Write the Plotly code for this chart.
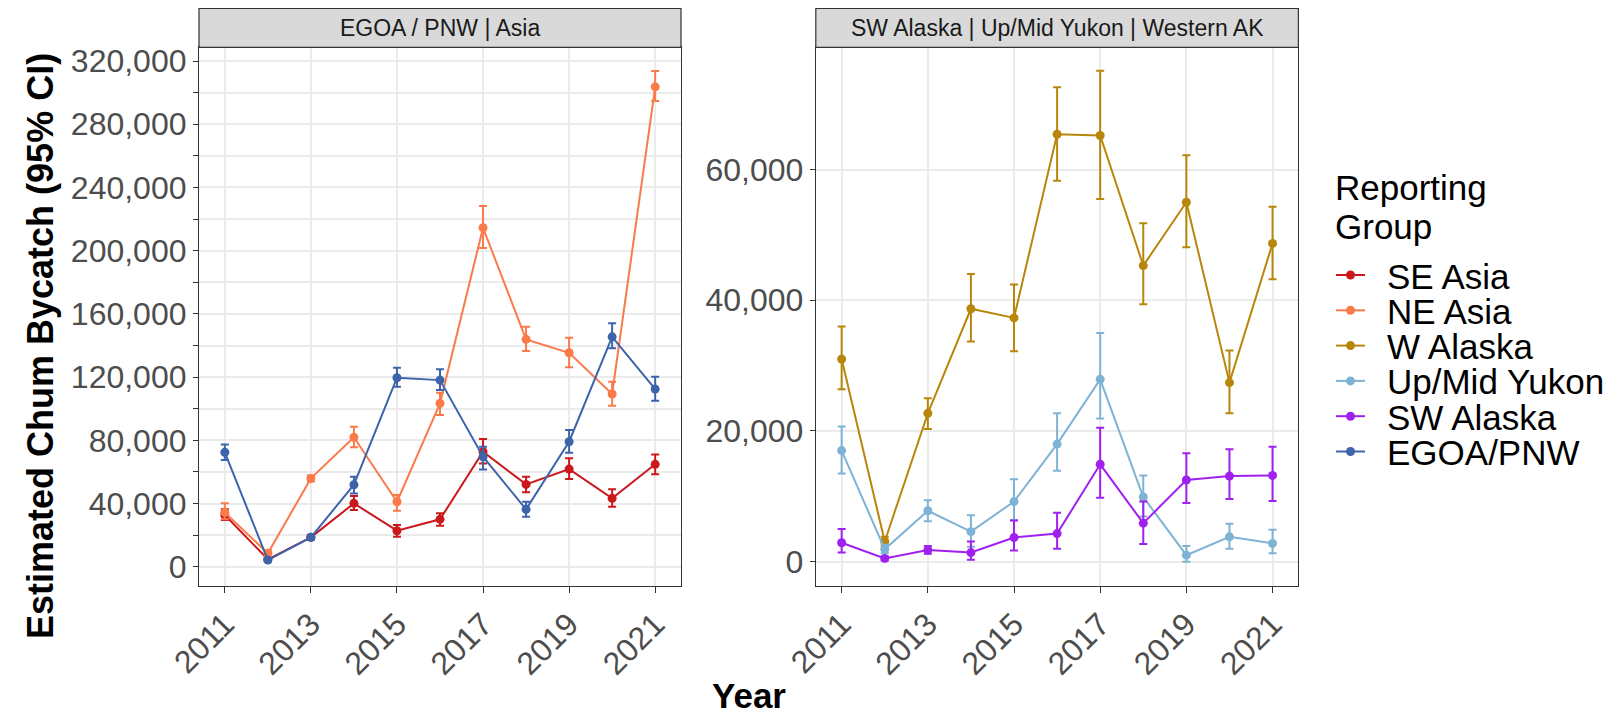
import plotly.graph_objects as go

W, H = 1621, 714
OFF = 8  # default page body margin in the browser
years = list(range(2011, 2022))

# ---- data ----
se_asia = [32700, 4700, 18600, 40100, 22800, 30000, 72800, 52100, 61800, 43300, 64800]
se_asia_lo = [29600, 3500, 17000, 35900, 19000, 26000, 65400, 47100, 55500, 38000, 58500]
se_asia_hi = [36300, 6000, 20300, 44700, 26400, 33800, 80800, 57000, 68600, 49000, 71100]

ne_asia = [34400, 8500, 55900, 81900, 41100, 103400, 214500, 143900, 135400, 109300, 303700]
ne_asia_lo = [30000, 6000, 54000, 75600, 35400, 96000, 201700, 136500, 126200, 101900, 294700]
ne_asia_hi = [40100, 10500, 57800, 88600, 45400, 110100, 228200, 151900, 144900, 117100, 313700]

egoa = [72400, 4200, 18600, 51900, 119600, 118100, 69600, 36300, 79100, 145500, 112400]
egoa_lo = [67500, 3300, 17400, 46400, 113900, 111800, 61600, 31600, 72100, 138200, 105000]
egoa_hi = [77400, 5200, 19800, 57000, 125900, 124900, 75900, 41100, 86500, 154000, 120200]

w_alaska = [31000, 3100, 22700, 38700, 37300, 65400, 65200, 45300, 55000, 27400, 48700]
w_alaska_lo = [26400, 2400, 20300, 33700, 32200, 58300, 55500, 39400, 48100, 22700, 43200]
w_alaska_hi = [36000, 3800, 25000, 44000, 42400, 72600, 75100, 51800, 62200, 32300, 54300]

yukon = [17000, 1900, 7800, 4600, 9200, 18000, 27900, 9900, 1000, 3800, 2800]
yukon_lo = [13500, 1300, 6200, 2300, 6400, 13900, 21900, 6900, 0, 2000, 1300]
yukon_hi = [20700, 2600, 9400, 7100, 12600, 22700, 35000, 13200, 2400, 5800, 4900]

sw_alaska = [2900, 500, 1800, 1400, 3700, 4300, 14900, 5900, 12500, 13100, 13200]
sw_alaska_lo = [1400, 200, 1200, 300, 1700, 2000, 9800, 2700, 9000, 9600, 9300]
sw_alaska_hi = [5000, 800, 2400, 3100, 6300, 7500, 20500, 9200, 16600, 17200, 17600]

group_names = ["SE Asia", "NE Asia", "W Alaska", "Up/Mid Yukon", "SW Alaska", "EGOA/PNW"]
group_colors = ["#CB181D", "#FB7A4A", "#B8860B", "#7FB3D5", "#A020F0", "#3D64AB"]

strip_labels = ["EGOA / PNW | Asia", "SW Alaska | Up/Mid Yukon | Western AK"]
x_ticks = [2011, 2013, 2015, 2017, 2019, 2021]
left_ticks = list(range(0, 320001, 20000))
right_ticks = [0, 20000, 40000, 60000]

series = [
    # name, est, lo, hi, panel
    ("SE Asia", se_asia, se_asia_lo, se_asia_hi, 1),
    ("NE Asia", ne_asia, ne_asia_lo, ne_asia_hi, 1),
    ("W Alaska", w_alaska, w_alaska_lo, w_alaska_hi, 2),
    ("Up/Mid Yukon", yukon, yukon_lo, yukon_hi, 2),
    ("SW Alaska", sw_alaska, sw_alaska_lo, sw_alaska_hi, 2),
    ("EGOA/PNW", egoa, egoa_lo, egoa_hi, 1),
]

FONT = "Liberation Sans, Arial, Helvetica, sans-serif"
TICK_COL = "#4D4D4D"
BORDER = "#333333"
GRID = "#EBEBEB"

fig = go.Figure()
for name, est, lo, hi, panel in series:
    col = group_colors[group_names.index(name)]
    fig.add_trace(go.Scatter(
        x=years, y=est, mode="lines+markers", name=name,
        xaxis="x" if panel == 1 else "x2", yaxis="y" if panel == 1 else "y2",
        line=dict(color=col, width=2),
        marker=dict(color=col, size=9),
        error_y=dict(type="data", symmetric=False,
                     array=[h - e for h, e in zip(hi, est)],
                     arrayminus=[e - l for e, l in zip(est, lo)],
                     color=col, thickness=2, width=4),
        showlegend=False,
    ))

# panel geometry (window pixels)
p1 = (199, 681)
p2 = (815.8, 1298.4)
ptop, pbot = 47.3, 585.7
stop = 8.3

def px(x):
    return (x - OFF) / W

def py(y):
    return 1 - (y - OFF) / H

xaxis_common = dict(
    range=[2010.4, 2021.6], tickvals=x_ticks, ticktext=[str(v) for v in x_ticks],
    tickangle=-45, ticks="outside", ticklen=6, tickwidth=1.2, tickcolor=BORDER,
    showgrid=True, gridcolor=GRID, gridwidth=1.5,
    showline=True, linecolor=BORDER, linewidth=1.2, mirror=True,
    tickfont=dict(family=FONT, size=32, color=TICK_COL),
    zeroline=False, automargin=False,
)
yaxis_common = dict(
    ticks="outside", ticklen=5, tickwidth=1.2, tickcolor=BORDER,
    showgrid=True, gridcolor=GRID, gridwidth=1.5,
    showline=True, linecolor=BORDER, linewidth=1.2, mirror=True,
    tickfont=dict(family=FONT, size=32, color=TICK_COL),
    zeroline=False, automargin=False,
)

fig.update_layout(
    width=W, height=H,
    margin=dict(l=0, r=0, t=0, b=0, autoexpand=False),
    paper_bgcolor="white", plot_bgcolor="white",
    showlegend=False,
    xaxis=dict(xaxis_common, domain=[px(p1[0]), px(p1[1])], anchor="y"),
    xaxis2=dict(xaxis_common, domain=[px(p2[0]), px(p2[1])], anchor="y2"),
    yaxis=dict(yaxis_common, domain=[py(pbot), py(ptop)], anchor="x",
               range=[-12000, 328700], tickvals=left_ticks,
               ticktext=[f"{v:,}" if v % 40000 == 0 else "" for v in left_ticks]),
    yaxis2=dict(yaxis_common, domain=[py(pbot), py(ptop)], anchor="x2",
                range=[-3670, 78700], tickvals=right_ticks,
                ticktext=[f"{v:,}" for v in right_ticks]),
)

shapes = []
annotations = []
for (x0, x1), lab in zip([p1, p2], strip_labels):
    shapes.append(dict(type="rect", xref="paper", yref="paper",
                       x0=px(x0), x1=px(x1), y0=py(ptop), y1=py(stop),
                       fillcolor="#D9D9D9", line=dict(color=BORDER, width=1.2)))
    annotations.append(dict(xref="paper", yref="paper", x=px((x0 + x1) / 2),
                            y=py((stop + ptop) / 2), text=lab, showarrow=False,
                            xanchor="center", yanchor="middle",
                            font=dict(family=FONT, size=23, color="#1A1A1A")))

# axis titles
annotations.append(dict(xref="paper", yref="paper", x=px(749), y=py(695),
                        text="<b>Year</b>", showarrow=False, xanchor="center",
                        yanchor="middle", font=dict(family=FONT, size=35, color="black")))
annotations.append(dict(xref="paper", yref="paper", x=px(40), y=py(346),
                        text="<b>Estimated Chum Bycatch (95% CI)</b>", textangle=-90,
                        showarrow=False, xanchor="center", yanchor="middle",
                        font=dict(family=FONT, size=36, color="black")))

# legend (drawn manually to match compact ggplot spacing)
for txt, ty in [("Reporting", 187), ("Group", 226)]:
    annotations.append(dict(xref="paper", yref="paper", x=px(1333), y=py(ty),
                            text=txt, showarrow=False, xanchor="left",
                            yanchor="middle", font=dict(family=FONT, size=35, color="black")))
leg_y = [275, 310.3, 345.6, 380.9, 416.2, 451.5]
for name, ly in zip(group_names, leg_y):
    col = group_colors[group_names.index(name)]
    shapes.append(dict(type="line", xref="paper", yref="paper",
                       x0=px(1336), x1=px(1365), y0=py(ly), y1=py(ly),
                       line=dict(color=col, width=2)))
    shapes.append(dict(type="circle", xref="paper", yref="paper",
                       x0=px(1346), x1=px(1355), y0=py(ly - 4.5), y1=py(ly + 4.5),
                       fillcolor=col, line=dict(color=col, width=0)))
    annotations.append(dict(xref="paper", yref="paper", x=px(1385), y=py(ly + 1),
                            text=name, showarrow=False, xanchor="left", yanchor="middle",
                            font=dict(family=FONT, size=35, color="black")))

fig.update_layout(shapes=shapes, annotations=annotations)
fig.write_html("out.html")
